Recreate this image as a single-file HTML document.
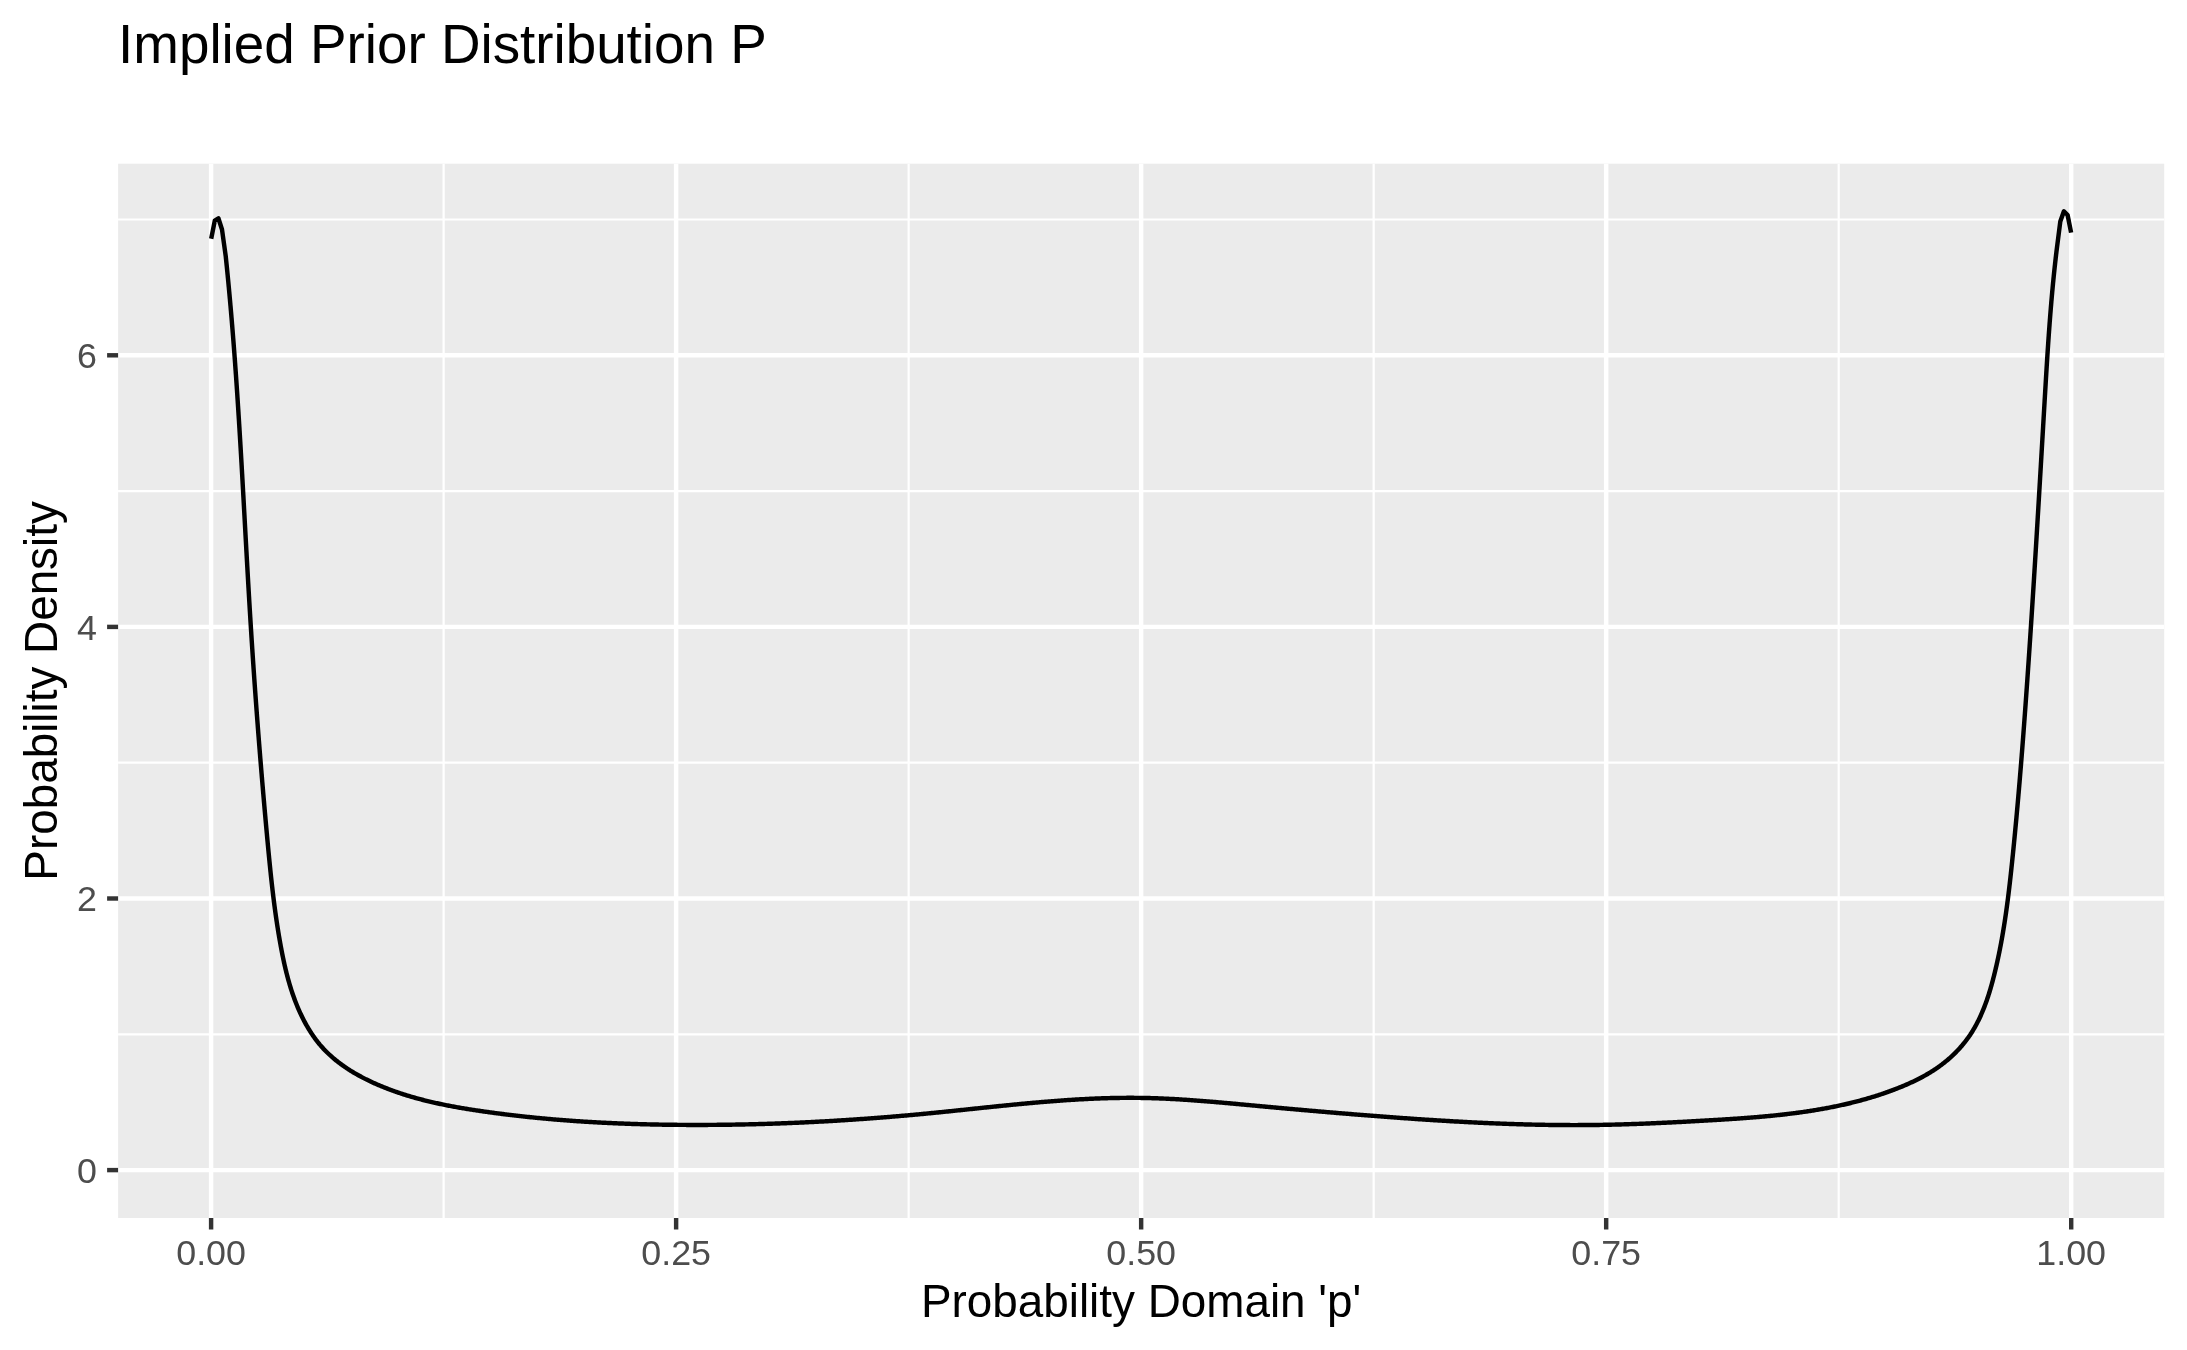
<!DOCTYPE html>
<html><head><meta charset="utf-8"><style>
html,body{margin:0;padding:0;background:#fff;}
body{width:2187px;height:1350px;overflow:hidden;}
svg{display:block;}
text{font-family:"Liberation Sans",sans-serif;}
svg{will-change:transform;}
.ax{font-size:35.8px;fill:#4d4d4d;}
.ti{font-size:45.83px;fill:#000;}
.tt{font-size:54.8px;fill:#000;}
</style></head><body>
<svg width="2187" height="1350" viewBox="0 0 2187 1350">
<rect x="0" y="0" width="2187" height="1350" fill="#fff"/>
<rect x="118.1" y="163.7" width="2046.10" height="1054.30" fill="#ebebeb"/>
<line x1="443.61" y1="163.7" x2="443.61" y2="1218.0" stroke="#fff" stroke-width="2.22"/>
<line x1="908.64" y1="163.7" x2="908.64" y2="1218.0" stroke="#fff" stroke-width="2.22"/>
<line x1="1373.66" y1="163.7" x2="1373.66" y2="1218.0" stroke="#fff" stroke-width="2.22"/>
<line x1="1838.69" y1="163.7" x2="1838.69" y2="1218.0" stroke="#fff" stroke-width="2.22"/>
<line x1="118.1" y1="1034.30" x2="2164.2" y2="1034.30" stroke="#fff" stroke-width="2.22"/>
<line x1="118.1" y1="762.70" x2="2164.2" y2="762.70" stroke="#fff" stroke-width="2.22"/>
<line x1="118.1" y1="491.10" x2="2164.2" y2="491.10" stroke="#fff" stroke-width="2.22"/>
<line x1="118.1" y1="219.50" x2="2164.2" y2="219.50" stroke="#fff" stroke-width="2.22"/>
<line x1="211.10" y1="163.7" x2="211.10" y2="1218.0" stroke="#fff" stroke-width="4.44"/>
<line x1="676.12" y1="163.7" x2="676.12" y2="1218.0" stroke="#fff" stroke-width="4.44"/>
<line x1="1141.15" y1="163.7" x2="1141.15" y2="1218.0" stroke="#fff" stroke-width="4.44"/>
<line x1="1606.17" y1="163.7" x2="1606.17" y2="1218.0" stroke="#fff" stroke-width="4.44"/>
<line x1="2071.20" y1="163.7" x2="2071.20" y2="1218.0" stroke="#fff" stroke-width="4.44"/>
<line x1="118.1" y1="1170.10" x2="2164.2" y2="1170.10" stroke="#fff" stroke-width="4.44"/>
<line x1="118.1" y1="898.50" x2="2164.2" y2="898.50" stroke="#fff" stroke-width="4.44"/>
<line x1="118.1" y1="626.90" x2="2164.2" y2="626.90" stroke="#fff" stroke-width="4.44"/>
<line x1="118.1" y1="355.30" x2="2164.2" y2="355.30" stroke="#fff" stroke-width="4.44"/>
<polyline points="211.20,238.70 214.80,220.60 218.40,218.30 222.00,229.50 225.70,256.00 225.82,257.09 225.93,258.18 226.04,259.27 226.15,260.36 226.27,261.45 226.38,262.54 226.49,263.63 226.60,264.72 226.71,265.81 226.82,266.90 226.93,267.99 227.04,269.08 227.15,270.17 227.26,271.26 227.37,272.35 227.47,273.44 227.58,274.53 227.69,275.62 227.79,276.71 227.90,277.80 228.01,278.89 228.11,279.98 228.22,281.07 228.32,282.16 228.43,283.25 228.53,284.34 228.63,285.43 228.73,286.52 228.84,287.61 228.94,288.71 229.04,289.80 229.14,290.89 229.24,291.98 229.34,293.07 229.44,294.16 229.54,295.25 229.64,296.34 229.74,297.43 229.84,298.52 229.94,299.61 230.04,300.70 230.13,301.79 230.23,302.89 230.33,303.98 230.42,305.07 230.52,306.16 230.62,307.25 230.71,308.34 230.81,309.43 230.90,310.52 231.00,311.61 231.09,312.70 231.18,313.80 231.28,314.89 231.37,315.98 231.46,317.07 231.55,318.16 231.65,319.25 231.74,320.34 231.83,321.43 231.92,322.53 232.01,323.62 232.10,324.71 232.19,325.80 232.28,326.89 232.37,327.98 232.46,329.07 232.55,330.17 232.64,331.26 232.72,332.35 232.81,333.44 232.90,334.53 232.99,335.62 233.07,336.71 233.16,337.81 233.25,338.90 233.33,339.99 233.42,341.08 233.50,342.17 233.59,343.26 233.67,344.36 233.76,345.45 233.84,346.54 233.92,347.63 234.01,348.72 234.09,349.82 234.17,350.91 234.26,352.00 234.34,353.09 234.42,354.18 234.50,355.28 234.58,356.37 234.66,357.46 234.75,358.55 234.83,359.64 234.91,360.74 234.99,361.83 235.07,362.92 235.15,364.01 235.23,365.10 235.30,366.20 235.38,367.29 235.46,368.38 235.54,369.47 235.62,370.56 235.70,371.66 235.77,372.75 235.85,373.84 235.93,374.93 236.01,376.03 236.08,377.12 236.16,378.21 236.23,379.30 236.31,380.40 236.39,381.49 236.46,382.58 236.54,383.67 236.61,384.77 236.69,385.86 236.76,386.95 236.83,388.04 236.91,389.14 236.98,390.23 237.06,391.32 237.13,392.41 237.20,393.51 237.28,394.60 237.35,395.69 237.42,396.78 237.49,397.88 237.57,398.97 237.64,400.06 237.71,401.15 237.78,402.25 237.85,403.34 237.92,404.43 237.99,405.53 238.06,406.62 238.13,407.71 238.21,408.80 238.28,409.90 238.35,410.99 238.42,412.08 238.48,413.17 238.55,414.27 238.62,415.36 238.69,416.45 238.76,417.55 238.83,418.64 238.90,419.73 238.97,420.83 239.04,421.92 239.10,423.01 239.17,424.10 239.24,425.20 239.31,426.29 239.37,427.38 239.44,428.48 239.51,429.57 239.57,430.66 239.64,431.76 239.71,432.85 239.77,433.94 239.84,435.03 239.91,436.13 239.97,437.22 240.04,438.31 240.10,439.41 240.17,440.50 240.24,441.59 240.30,442.69 240.37,443.78 240.43,444.87 240.50,445.97 240.56,447.06 240.63,448.15 240.69,449.25 240.75,450.34 240.82,451.43 240.88,452.53 240.95,453.62 241.01,454.71 241.08,455.81 241.14,456.90 241.20,457.99 241.27,459.09 241.33,460.18 241.39,461.27 241.46,462.37 241.52,463.46 241.58,464.55 241.65,465.65 241.71,466.74 241.77,467.83 241.83,468.93 241.90,470.02 241.96,471.11 242.02,472.21 242.08,473.30 242.15,474.39 242.21,475.49 242.27,476.58 242.33,477.67 242.39,478.77 242.46,479.86 242.52,480.95 242.58,482.05 242.64,483.14 242.70,484.24 242.76,485.33 242.82,486.42 242.89,487.52 242.95,488.61 243.01,489.70 243.07,490.80 243.13,491.89 243.19,492.98 243.25,494.08 243.31,495.17 243.38,496.26 243.44,497.36 243.50,498.45 243.56,499.55 243.62,500.64 243.68,501.73 243.74,502.83 243.80,503.92 243.86,505.01 243.92,506.11 243.98,507.20 244.04,508.30 244.10,509.39 244.16,510.48 244.22,511.58 244.29,512.67 244.35,513.76 244.41,514.86 244.47,515.95 244.53,517.04 244.59,518.14 244.65,519.23 244.71,520.33 244.77,521.42 244.83,522.51 244.89,523.61 244.95,524.70 245.01,525.79 245.07,526.89 245.13,527.98 245.19,529.08 245.25,530.17 245.31,531.26 245.37,532.36 245.43,533.45 245.49,534.54 245.55,535.64 245.61,536.73 245.68,537.83 245.74,538.92 245.80,540.01 245.86,541.11 245.92,542.20 245.98,543.29 246.04,544.39 246.10,545.48 246.16,546.58 246.22,547.67 246.28,548.76 246.34,549.86 246.40,550.95 246.47,552.05 246.53,553.14 246.59,554.23 246.65,555.33 246.71,556.42 246.77,557.51 246.83,558.61 246.89,559.70 246.96,560.80 247.02,561.89 247.08,562.98 247.14,564.08 247.20,565.17 247.26,566.26 247.33,567.36 247.39,568.45 247.45,569.55 247.51,570.64 247.57,571.73 247.64,572.83 247.70,573.92 247.76,575.01 247.82,576.11 247.89,577.20 247.95,578.30 248.01,579.39 248.07,580.48 248.14,581.58 248.20,582.67 248.26,583.77 248.33,584.86 248.39,585.95 248.45,587.05 248.52,588.14 248.58,589.23 248.64,590.33 248.71,591.42 248.77,592.52 248.84,593.61 248.90,594.70 248.96,595.80 249.03,596.89 249.09,597.98 249.16,599.08 249.22,600.17 249.29,601.27 249.35,602.36 249.42,603.45 249.48,604.55 249.55,605.64 249.61,606.73 249.68,607.83 249.75,608.92 249.81,610.01 249.88,611.11 249.94,612.20 250.01,613.30 250.08,614.39 250.14,615.48 250.21,616.58 250.28,617.67 250.35,618.76 250.41,619.86 250.48,620.95 250.55,622.04 250.62,623.14 250.68,624.23 250.75,625.33 250.82,626.42 250.89,627.51 250.96,628.61 251.03,629.70 251.10,630.79 251.17,631.89 251.23,632.98 251.30,634.07 251.37,635.17 251.44,636.26 251.51,637.35 251.58,638.45 251.65,639.54 251.72,640.64 251.80,641.73 251.87,642.82 251.94,643.92 252.01,645.01 252.08,646.10 252.15,647.20 252.22,648.29 252.30,649.38 252.37,650.48 252.44,651.57 252.51,652.66 252.59,653.76 252.66,654.85 252.73,655.94 252.80,657.04 252.88,658.13 252.95,659.22 253.02,660.32 253.10,661.41 253.17,662.50 253.25,663.60 253.32,664.69 253.40,665.78 253.47,666.88 253.54,667.97 253.62,669.06 253.69,670.16 253.77,671.25 253.85,672.34 253.92,673.44 254.00,674.53 254.07,675.62 254.15,676.72 254.23,677.81 254.30,678.90 254.38,680.00 254.46,681.09 254.53,682.18 254.61,683.27 254.69,684.37 254.76,685.46 254.84,686.55 254.92,687.65 255.00,688.74 255.08,689.83 255.15,690.93 255.23,692.02 255.31,693.11 255.39,694.20 255.47,695.30 255.55,696.39 255.63,697.48 255.71,698.58 255.79,699.67 255.87,700.76 255.95,701.85 256.03,702.95 256.11,704.04 256.19,705.13 256.27,706.23 256.35,707.32 256.43,708.41 256.51,709.50 256.59,710.60 256.68,711.69 256.76,712.78 256.84,713.87 256.92,714.97 257.00,716.06 257.09,717.15 257.17,718.24 257.25,719.34 257.33,720.43 257.42,721.52 257.50,722.61 257.58,723.71 257.67,724.80 257.75,725.89 257.84,726.98 257.92,728.08 258.00,729.17 258.09,730.26 258.17,731.35 258.26,732.45 258.34,733.54 258.43,734.63 258.51,735.72 258.60,736.82 258.68,737.91 258.77,739.00 258.85,740.09 258.94,741.18 259.03,742.28 259.11,743.37 259.20,744.46 259.29,745.55 259.37,746.64 259.46,747.74 259.55,748.83 259.64,749.92 259.72,751.01 259.81,752.10 259.90,753.20 259.99,754.29 260.07,755.38 260.16,756.47 260.25,757.56 260.34,758.65 260.43,759.75 260.52,760.84 260.61,761.93 260.70,763.02 260.79,764.11 260.88,765.20 260.97,766.30 261.06,767.39 261.15,768.48 261.24,769.57 261.33,770.66 261.42,771.75 261.51,772.85 261.60,773.94 261.69,775.03 261.78,776.12 261.87,777.21 261.97,778.30 262.06,779.39 262.15,780.48 262.24,781.58 262.33,782.67 262.43,783.76 262.52,784.85 262.61,785.94 262.71,787.03 262.80,788.12 262.89,789.21 262.99,790.30 263.08,791.40 263.17,792.49 263.27,793.58 263.36,794.67 263.46,795.76 263.55,796.85 263.64,797.94 263.74,799.03 263.83,800.12 263.93,801.21 264.03,802.30 264.12,803.39 264.22,804.49 264.31,805.58 264.41,806.67 264.50,807.76 264.60,808.85 264.70,809.94 264.79,811.03 264.89,812.12 264.99,813.21 265.08,814.30 265.18,815.39 265.28,816.48 265.38,817.57 265.47,818.66 265.57,819.75 265.67,820.84 265.77,821.93 265.87,823.02 265.97,824.11 266.06,825.20 266.16,826.29 266.26,827.38 266.36,828.47 266.46,829.56 266.56,830.65 266.66,831.74 266.76,832.83 266.86,833.92 266.96,835.01 267.06,836.10 267.16,837.19 267.26,838.28 267.36,839.37 267.46,840.46 267.57,841.55 267.67,842.64 267.77,843.73 267.87,844.82 267.97,845.91 268.08,846.99 268.18,848.08 268.28,849.17 268.38,850.26 268.49,851.35 268.59,852.44 268.70,853.53 268.80,854.62 268.91,855.71 269.01,856.80 269.12,857.89 269.23,858.97 269.33,860.06 269.44,861.15 269.55,862.24 269.66,863.33 269.77,864.42 269.88,865.51 269.99,866.59 270.10,867.68 270.21,868.77 270.32,869.86 270.43,870.95 270.55,872.03 270.66,873.12 270.77,874.21 270.89,875.30 271.01,876.39 271.12,877.47 271.24,878.56 271.36,879.65 271.48,880.74 271.60,881.82 271.72,882.91 271.84,884.00 271.96,885.09 272.09,886.17 272.21,887.26 272.34,888.35 272.46,889.43 272.59,890.52 272.72,891.61 272.85,892.69 272.98,893.78 273.11,894.87 273.24,895.95 273.37,897.04 273.51,898.12 273.64,899.21 273.78,900.30 273.91,901.38 274.05,902.47 274.19,903.55 274.33,904.64 274.47,905.72 274.62,906.81 274.76,907.89 274.91,908.98 275.05,910.06 275.20,911.15 275.35,912.23 275.50,913.32 275.65,914.40 275.81,915.49 275.96,916.57 276.12,917.66 276.28,918.74 276.43,919.82 276.59,920.91 276.76,921.99 276.92,923.08 277.08,924.16 277.25,925.24 277.42,926.33 277.59,927.41 277.76,928.49 277.93,929.57 278.10,930.66 278.28,931.74 278.45,932.82 278.63,933.91 278.81,934.99 278.99,936.07 279.18,937.15 279.36,938.23 279.55,939.31 279.74,940.40 279.93,941.48 280.12,942.56 280.31,943.64 280.51,944.72 280.70,945.80 280.90,946.88 281.10,947.96 281.31,949.04 281.51,950.12 281.72,951.20 281.93,952.28 282.14,953.36 282.36,954.44 282.57,955.52 282.79,956.59 283.01,957.67 283.24,958.75 283.47,959.82 283.70,960.90 283.93,961.97 284.16,963.04 284.40,964.12 284.64,965.19 284.89,966.26 285.14,967.33 285.39,968.40 285.64,969.47 285.90,970.53 286.17,971.60 286.43,972.67 286.70,973.73 286.97,974.79 287.25,975.86 287.53,976.92 287.81,977.98 288.10,979.04 288.39,980.09 288.69,981.15 288.99,982.20 289.29,983.26 289.60,984.31 289.92,985.36 290.23,986.41 290.56,987.46 290.88,988.50 291.21,989.55 291.55,990.59 291.89,991.63 292.24,992.67 292.59,993.71 292.94,994.74 293.30,995.78 293.67,996.81 294.04,997.84 294.42,998.87 294.80,999.90 295.19,1000.92 295.58,1001.95 295.98,1002.97 296.38,1003.99 296.79,1005.00 297.20,1006.02 297.62,1007.03 298.05,1008.04 298.48,1009.05 298.92,1010.06 299.37,1011.06 299.82,1012.06 300.27,1013.06 300.74,1014.06 301.20,1015.05 301.68,1016.04 302.16,1017.03 302.65,1018.02 303.15,1019.00 303.65,1019.97 304.15,1020.95 304.67,1021.92 305.19,1022.89 305.72,1023.85 306.25,1024.81 306.79,1025.76 307.34,1026.71 307.90,1027.65 308.46,1028.60 309.03,1029.53 309.60,1030.46 310.18,1031.39 310.77,1032.31 311.37,1033.22 311.98,1034.13 312.59,1035.04 313.21,1035.94 313.83,1036.83 314.47,1037.72 315.11,1038.60 315.75,1039.47 316.41,1040.34 317.07,1041.20 317.75,1042.05 318.42,1042.90 319.11,1043.74 319.80,1044.58 320.51,1045.40 321.22,1046.22 321.93,1047.03 322.66,1047.84 323.39,1048.64 324.13,1049.42 324.88,1050.21 325.64,1050.98 326.40,1051.75 327.17,1052.51 327.95,1053.26 328.73,1054.01 329.52,1054.75 330.32,1055.48 331.13,1056.21 331.94,1056.93 332.76,1057.64 333.58,1058.34 334.41,1059.04 335.25,1059.73 336.09,1060.42 336.94,1061.10 337.79,1061.77 338.65,1062.43 339.52,1063.09 340.39,1063.75 341.27,1064.39 342.15,1065.03 343.04,1065.67 343.93,1066.29 344.83,1066.91 345.73,1067.53 346.64,1068.14 347.55,1068.74 348.47,1069.34 349.39,1069.93 350.32,1070.51 351.25,1071.09 352.19,1071.67 353.12,1072.23 354.07,1072.80 355.02,1073.35 355.97,1073.90 356.92,1074.45 357.88,1074.99 358.84,1075.52 359.81,1076.05 360.78,1076.57 361.75,1077.09 362.72,1077.60 363.70,1078.11 364.68,1078.61 365.67,1079.11 366.65,1079.60 367.64,1080.09 368.64,1080.57 369.63,1081.05 370.63,1081.52 371.63,1081.99 372.63,1082.45 373.63,1082.91 374.64,1083.36 375.64,1083.81 376.65,1084.25 377.66,1084.69 378.67,1085.12 379.69,1085.55 380.70,1085.98 381.72,1086.40 382.74,1086.82 383.76,1087.23 384.78,1087.64 385.80,1088.04 386.82,1088.44 387.84,1088.84 388.87,1089.23 389.89,1089.61 390.92,1090.00 391.95,1090.37 392.98,1090.75 394.01,1091.12 395.04,1091.49 396.08,1091.85 397.11,1092.21 398.15,1092.56 399.18,1092.91 400.22,1093.26 401.26,1093.60 402.30,1093.94 403.34,1094.28 404.38,1094.61 405.43,1094.94 406.47,1095.27 407.51,1095.59 408.56,1095.91 409.61,1096.22 410.66,1096.53 411.70,1096.84 412.75,1097.14 413.81,1097.45 414.86,1097.74 415.91,1098.04 416.96,1098.33 418.02,1098.62 419.07,1098.90 420.13,1099.18 421.19,1099.46 422.24,1099.74 423.30,1100.01 424.36,1100.28 425.42,1100.54 426.48,1100.81 427.55,1101.07 428.61,1101.33 429.67,1101.58 430.74,1101.83 431.80,1102.08 432.87,1102.33 433.93,1102.57 435.00,1102.81 436.07,1103.05 437.14,1103.29 438.21,1103.52 439.27,1103.75 440.35,1103.98 441.42,1104.20 442.49,1104.43 443.56,1104.65 444.63,1104.87 445.71,1105.08 446.78,1105.30 447.85,1105.51 448.93,1105.72 450.00,1105.93 451.08,1106.13 452.16,1106.33 453.23,1106.53 454.31,1106.73 455.39,1106.93 456.47,1107.12 457.55,1107.32 458.62,1107.51 459.70,1107.70 460.78,1107.88 461.86,1108.07 462.94,1108.25 464.03,1108.43 465.11,1108.61 466.19,1108.79 467.27,1108.97 468.35,1109.14 469.44,1109.32 470.52,1109.49 471.60,1109.66 472.69,1109.83 473.77,1110.00 474.85,1110.16 475.94,1110.33 477.02,1110.49 478.11,1110.65 479.19,1110.81 480.28,1110.97 481.36,1111.13 482.45,1111.29 483.53,1111.44 484.62,1111.60 485.70,1111.75 486.79,1111.91 487.87,1112.06 488.96,1112.21 490.05,1112.36 491.13,1112.51 492.22,1112.65 493.31,1112.80 494.39,1112.95 495.48,1113.09 496.57,1113.23 497.65,1113.38 498.74,1113.52 499.83,1113.66 500.91,1113.80 502.00,1113.94 503.09,1114.07 504.18,1114.21 505.26,1114.34 506.35,1114.48 507.44,1114.61 508.53,1114.74 509.61,1114.88 510.70,1115.01 511.79,1115.14 512.88,1115.26 513.97,1115.39 515.06,1115.52 516.14,1115.64 517.23,1115.77 518.32,1115.89 519.41,1116.01 520.50,1116.13 521.59,1116.25 522.68,1116.37 523.77,1116.49 524.85,1116.61 525.94,1116.73 527.03,1116.84 528.12,1116.96 529.21,1117.07 530.30,1117.18 531.39,1117.30 532.48,1117.41 533.57,1117.52 534.66,1117.62 535.75,1117.73 536.84,1117.84 537.93,1117.95 539.02,1118.05 540.11,1118.16 541.20,1118.26 542.29,1118.36 543.38,1118.46 544.47,1118.56 545.57,1118.66 546.66,1118.76 547.75,1118.86 548.84,1118.96 549.93,1119.05 551.02,1119.15 552.11,1119.24 553.20,1119.34 554.29,1119.43 555.39,1119.52 556.48,1119.61 557.57,1119.70 558.66,1119.79 559.75,1119.88 560.84,1119.97 561.94,1120.05 563.03,1120.14 564.12,1120.22 565.21,1120.31 566.30,1120.39 567.40,1120.47 568.49,1120.55 569.58,1120.64 570.67,1120.71 571.76,1120.79 572.86,1120.87 573.95,1120.95 575.04,1121.02 576.13,1121.10 577.23,1121.17 578.32,1121.25 579.41,1121.32 580.51,1121.39 581.60,1121.47 582.69,1121.54 583.78,1121.61 584.88,1121.67 585.97,1121.74 587.06,1121.81 588.16,1121.88 589.25,1121.94 590.34,1122.01 591.44,1122.07 592.53,1122.13 593.62,1122.20 594.72,1122.26 595.81,1122.32 596.90,1122.38 598.00,1122.44 599.09,1122.50 600.19,1122.55 601.28,1122.61 602.37,1122.67 603.47,1122.72 604.56,1122.78 605.65,1122.83 606.75,1122.89 607.84,1122.94 608.94,1122.99 610.03,1123.04 611.12,1123.09 612.22,1123.14 613.31,1123.19 614.41,1123.24 615.50,1123.28 616.60,1123.33 617.69,1123.38 618.78,1123.42 619.88,1123.47 620.97,1123.51 622.07,1123.55 623.16,1123.59 624.26,1123.64 625.35,1123.68 626.45,1123.72 627.54,1123.76 628.64,1123.79 629.73,1123.83 630.82,1123.87 631.92,1123.91 633.01,1123.94 634.11,1123.98 635.20,1124.01 636.30,1124.05 637.39,1124.08 638.49,1124.11 639.58,1124.14 640.68,1124.17 641.77,1124.21 642.87,1124.23 643.96,1124.26 645.06,1124.29 646.15,1124.32 647.25,1124.35 648.34,1124.37 649.44,1124.40 650.53,1124.42 651.63,1124.45 652.72,1124.47 653.82,1124.50 654.91,1124.52 656.01,1124.54 657.10,1124.56 658.20,1124.58 659.29,1124.60 660.39,1124.62 661.48,1124.64 662.58,1124.66 663.67,1124.68 664.77,1124.69 665.86,1124.71 666.96,1124.73 668.05,1124.74 669.15,1124.76 670.24,1124.77 671.34,1124.78 672.43,1124.80 673.53,1124.81 674.62,1124.82 675.72,1124.83 676.82,1124.84 677.91,1124.85 679.01,1124.86 680.10,1124.87 681.20,1124.88 682.29,1124.89 683.39,1124.89 684.48,1124.90 685.58,1124.90 686.67,1124.91 687.77,1124.91 688.86,1124.92 689.96,1124.92 691.05,1124.93 692.15,1124.93 693.24,1124.93 694.34,1124.93 695.43,1124.93 696.53,1124.93 697.62,1124.93 698.72,1124.93 699.81,1124.93 700.91,1124.93 702.00,1124.93 703.10,1124.92 704.19,1124.92 705.29,1124.92 706.38,1124.91 707.48,1124.91 708.57,1124.90 709.67,1124.90 710.76,1124.89 711.86,1124.88 712.95,1124.87 714.05,1124.87 715.14,1124.86 716.24,1124.85 717.33,1124.84 718.43,1124.83 719.52,1124.82 720.62,1124.81 721.71,1124.79 722.80,1124.78 723.90,1124.77 724.99,1124.76 726.09,1124.74 727.18,1124.73 728.28,1124.71 729.37,1124.70 730.47,1124.68 731.56,1124.66 732.66,1124.65 733.75,1124.63 734.85,1124.61 735.94,1124.59 737.04,1124.57 738.13,1124.55 739.22,1124.53 740.32,1124.51 741.41,1124.49 742.51,1124.47 743.60,1124.45 744.70,1124.42 745.79,1124.40 746.89,1124.37 747.98,1124.35 749.07,1124.33 750.17,1124.30 751.26,1124.27 752.36,1124.25 753.45,1124.22 754.55,1124.19 755.64,1124.16 756.74,1124.14 757.83,1124.11 758.92,1124.08 760.02,1124.05 761.11,1124.02 762.21,1123.98 763.30,1123.95 764.40,1123.92 765.49,1123.89 766.58,1123.85 767.68,1123.82 768.77,1123.79 769.87,1123.75 770.96,1123.71 772.05,1123.68 773.15,1123.64 774.24,1123.61 775.34,1123.57 776.43,1123.53 777.52,1123.49 778.62,1123.45 779.71,1123.41 780.81,1123.37 781.90,1123.33 782.99,1123.29 784.09,1123.25 785.18,1123.21 786.28,1123.16 787.37,1123.12 788.46,1123.08 789.56,1123.03 790.65,1122.99 791.75,1122.94 792.84,1122.90 793.93,1122.85 795.03,1122.81 796.12,1122.76 797.22,1122.71 798.31,1122.66 799.40,1122.61 800.50,1122.56 801.59,1122.51 802.68,1122.46 803.78,1122.41 804.87,1122.36 805.96,1122.31 807.06,1122.26 808.15,1122.21 809.25,1122.15 810.34,1122.10 811.43,1122.04 812.53,1121.99 813.62,1121.93 814.71,1121.88 815.81,1121.82 816.90,1121.76 817.99,1121.71 819.09,1121.65 820.18,1121.59 821.27,1121.53 822.37,1121.47 823.46,1121.41 824.55,1121.35 825.65,1121.29 826.74,1121.23 827.83,1121.17 828.93,1121.11 830.02,1121.04 831.11,1120.98 832.21,1120.92 833.30,1120.85 834.39,1120.79 835.49,1120.72 836.58,1120.66 837.67,1120.59 838.77,1120.52 839.86,1120.46 840.95,1120.39 842.05,1120.32 843.14,1120.25 844.23,1120.18 845.33,1120.11 846.42,1120.04 847.51,1119.97 848.60,1119.90 849.70,1119.83 850.79,1119.76 851.88,1119.68 852.98,1119.61 854.07,1119.54 855.16,1119.46 856.25,1119.39 857.35,1119.31 858.44,1119.24 859.53,1119.16 860.63,1119.09 861.72,1119.01 862.81,1118.93 863.90,1118.85 865.00,1118.77 866.09,1118.70 867.18,1118.62 868.27,1118.54 869.37,1118.46 870.46,1118.37 871.55,1118.29 872.65,1118.21 873.74,1118.13 874.83,1118.05 875.92,1117.96 877.02,1117.88 878.11,1117.79 879.20,1117.71 880.29,1117.62 881.38,1117.54 882.48,1117.45 883.57,1117.37 884.66,1117.28 885.75,1117.19 886.85,1117.10 887.94,1117.01 889.03,1116.92 890.12,1116.84 891.22,1116.74 892.31,1116.65 893.40,1116.56 894.49,1116.47 895.58,1116.38 896.68,1116.29 897.77,1116.19 898.86,1116.10 899.95,1116.01 901.05,1115.91 902.14,1115.82 903.23,1115.72 904.32,1115.63 905.41,1115.53 906.51,1115.43 907.60,1115.34 908.69,1115.24 909.78,1115.14 910.87,1115.04 911.96,1114.94 913.06,1114.84 914.15,1114.74 915.24,1114.64 916.33,1114.54 917.42,1114.44 918.52,1114.34 919.61,1114.24 920.70,1114.13 921.79,1114.03 922.88,1113.93 923.97,1113.82 925.07,1113.72 926.16,1113.61 927.25,1113.51 928.34,1113.40 929.43,1113.29 930.52,1113.19 931.61,1113.08 932.71,1112.97 933.80,1112.86 934.89,1112.75 935.98,1112.65 937.07,1112.54 938.16,1112.43 939.25,1112.32 940.35,1112.21 941.44,1112.10 942.53,1111.99 943.62,1111.87 944.71,1111.76 945.80,1111.65 946.89,1111.54 947.98,1111.43 949.08,1111.32 950.17,1111.20 951.26,1111.09 952.35,1110.98 953.44,1110.86 954.53,1110.75 955.62,1110.64 956.71,1110.52 957.80,1110.41 958.90,1110.30 959.99,1110.18 961.08,1110.07 962.17,1109.95 963.26,1109.84 964.35,1109.72 965.44,1109.61 966.53,1109.49 967.62,1109.38 968.71,1109.27 969.81,1109.15 970.90,1109.04 971.99,1108.92 973.08,1108.81 974.17,1108.69 975.26,1108.58 976.35,1108.46 977.44,1108.35 978.53,1108.23 979.62,1108.12 980.71,1108.00 981.81,1107.89 982.90,1107.78 983.99,1107.66 985.08,1107.55 986.17,1107.43 987.26,1107.32 988.35,1107.21 989.44,1107.09 990.53,1106.98 991.62,1106.87 992.71,1106.75 993.81,1106.64 994.90,1106.53 995.99,1106.42 997.08,1106.31 998.17,1106.19 999.26,1106.08 1000.35,1105.97 1001.44,1105.86 1002.53,1105.75 1003.62,1105.64 1004.71,1105.53 1005.80,1105.42 1006.89,1105.31 1007.99,1105.20 1009.08,1105.09 1010.17,1104.99 1011.26,1104.88 1012.35,1104.77 1013.44,1104.66 1014.53,1104.56 1015.62,1104.45 1016.71,1104.35 1017.80,1104.24 1018.89,1104.14 1019.98,1104.03 1021.08,1103.93 1022.17,1103.82 1023.26,1103.72 1024.35,1103.62 1025.44,1103.52 1026.53,1103.42 1027.62,1103.32 1028.71,1103.22 1029.80,1103.12 1030.89,1103.02 1031.98,1102.92 1033.08,1102.82 1034.17,1102.72 1035.26,1102.63 1036.35,1102.53 1037.44,1102.44 1038.53,1102.34 1039.62,1102.25 1040.71,1102.15 1041.80,1102.06 1042.89,1101.97 1043.99,1101.88 1045.08,1101.79 1046.17,1101.70 1047.26,1101.61 1048.35,1101.52 1049.44,1101.43 1050.53,1101.35 1051.62,1101.26 1052.71,1101.18 1053.80,1101.09 1054.90,1101.01 1055.99,1100.93 1057.08,1100.84 1058.17,1100.76 1059.26,1100.68 1060.35,1100.60 1061.44,1100.53 1062.53,1100.45 1063.63,1100.37 1064.72,1100.30 1065.81,1100.22 1066.90,1100.15 1067.99,1100.07 1069.08,1100.00 1070.17,1099.93 1071.26,1099.86 1072.36,1099.79 1073.45,1099.72 1074.54,1099.66 1075.63,1099.59 1076.72,1099.53 1077.81,1099.46 1078.90,1099.40 1080.00,1099.34 1081.09,1099.28 1082.18,1099.22 1083.27,1099.16 1084.36,1099.10 1085.45,1099.05 1086.55,1098.99 1087.64,1098.94 1088.73,1098.88 1089.82,1098.83 1090.91,1098.78 1092.00,1098.73 1093.10,1098.68 1094.19,1098.64 1095.28,1098.59 1096.37,1098.55 1097.46,1098.50 1098.56,1098.46 1099.65,1098.42 1100.74,1098.38 1101.83,1098.34 1102.92,1098.31 1104.02,1098.27 1105.11,1098.24 1106.20,1098.20 1107.29,1098.17 1108.38,1098.14 1109.48,1098.11 1110.57,1098.09 1111.66,1098.06 1112.75,1098.03 1113.85,1098.01 1114.94,1097.99 1116.03,1097.97 1117.12,1097.95 1118.21,1097.93 1119.31,1097.92 1120.40,1097.90 1121.49,1097.89 1122.58,1097.88 1123.68,1097.87 1124.77,1097.86 1125.86,1097.85 1126.96,1097.84 1128.05,1097.84 1129.14,1097.84 1130.23,1097.84 1131.33,1097.84 1132.42,1097.84 1133.51,1097.84 1134.60,1097.85 1135.70,1097.85 1136.79,1097.86 1137.88,1097.87 1138.98,1097.88 1140.07,1097.90 1141.16,1097.91 1142.26,1097.93 1143.35,1097.95 1144.44,1097.97 1145.54,1097.99 1146.63,1098.01 1147.72,1098.04 1148.82,1098.07 1149.91,1098.09 1151.00,1098.12 1152.10,1098.16 1153.19,1098.19 1154.28,1098.22 1155.38,1098.26 1156.47,1098.30 1157.56,1098.34 1158.66,1098.38 1159.75,1098.42 1160.84,1098.46 1161.94,1098.51 1163.03,1098.55 1164.13,1098.60 1165.22,1098.65 1166.31,1098.70 1167.41,1098.75 1168.50,1098.81 1169.59,1098.86 1170.69,1098.92 1171.78,1098.97 1172.88,1099.03 1173.97,1099.09 1175.06,1099.15 1176.16,1099.21 1177.25,1099.28 1178.35,1099.34 1179.44,1099.40 1180.53,1099.47 1181.63,1099.54 1182.72,1099.61 1183.82,1099.68 1184.91,1099.75 1186.00,1099.82 1187.10,1099.89 1188.19,1099.96 1189.29,1100.04 1190.38,1100.11 1191.47,1100.19 1192.57,1100.27 1193.66,1100.35 1194.75,1100.43 1195.85,1100.51 1196.94,1100.59 1198.04,1100.67 1199.13,1100.75 1200.22,1100.84 1201.32,1100.92 1202.41,1101.00 1203.51,1101.09 1204.60,1101.18 1205.69,1101.26 1206.79,1101.35 1207.88,1101.44 1208.97,1101.53 1210.07,1101.62 1211.16,1101.71 1212.26,1101.80 1213.35,1101.89 1214.44,1101.99 1215.54,1102.08 1216.63,1102.17 1217.72,1102.27 1218.82,1102.36 1219.91,1102.46 1221.00,1102.55 1222.10,1102.65 1223.19,1102.75 1224.28,1102.84 1225.38,1102.94 1226.47,1103.04 1227.56,1103.14 1228.66,1103.23 1229.75,1103.33 1230.84,1103.43 1231.94,1103.53 1233.03,1103.63 1234.12,1103.73 1235.21,1103.83 1236.31,1103.93 1237.40,1104.03 1238.49,1104.13 1239.59,1104.24 1240.68,1104.34 1241.77,1104.44 1242.86,1104.54 1243.96,1104.64 1245.05,1104.74 1246.14,1104.85 1247.23,1104.95 1248.33,1105.05 1249.42,1105.15 1250.51,1105.25 1251.60,1105.36 1252.70,1105.46 1253.79,1105.56 1254.88,1105.66 1255.97,1105.76 1257.06,1105.87 1258.16,1105.97 1259.25,1106.07 1260.34,1106.17 1261.43,1106.27 1262.52,1106.37 1263.61,1106.47 1264.70,1106.58 1265.80,1106.68 1266.89,1106.78 1267.98,1106.88 1269.07,1106.98 1270.16,1107.08 1271.25,1107.18 1272.34,1107.28 1273.43,1107.38 1274.53,1107.48 1275.62,1107.58 1276.71,1107.68 1277.80,1107.78 1278.89,1107.88 1279.98,1107.98 1281.07,1108.07 1282.16,1108.17 1283.25,1108.27 1284.34,1108.37 1285.43,1108.47 1286.52,1108.57 1287.61,1108.67 1288.70,1108.76 1289.79,1108.86 1290.89,1108.96 1291.98,1109.06 1293.07,1109.15 1294.16,1109.25 1295.25,1109.35 1296.34,1109.45 1297.43,1109.54 1298.52,1109.64 1299.61,1109.73 1300.70,1109.83 1301.79,1109.93 1302.88,1110.02 1303.97,1110.12 1305.06,1110.21 1306.15,1110.31 1307.24,1110.41 1308.33,1110.50 1309.42,1110.60 1310.51,1110.69 1311.60,1110.79 1312.69,1110.88 1313.78,1110.97 1314.87,1111.07 1315.96,1111.16 1317.05,1111.26 1318.14,1111.35 1319.23,1111.44 1320.32,1111.54 1321.41,1111.63 1322.50,1111.72 1323.59,1111.82 1324.68,1111.91 1325.77,1112.00 1326.86,1112.09 1327.95,1112.19 1329.04,1112.28 1330.13,1112.37 1331.22,1112.46 1332.31,1112.55 1333.40,1112.65 1334.49,1112.74 1335.58,1112.83 1336.67,1112.92 1337.76,1113.01 1338.85,1113.10 1339.94,1113.19 1341.03,1113.28 1342.12,1113.37 1343.21,1113.46 1344.30,1113.55 1345.39,1113.64 1346.48,1113.73 1347.57,1113.82 1348.66,1113.91 1349.75,1113.99 1350.84,1114.08 1351.93,1114.17 1353.02,1114.26 1354.11,1114.35 1355.20,1114.44 1356.29,1114.52 1357.38,1114.61 1358.47,1114.70 1359.56,1114.78 1360.65,1114.87 1361.75,1114.96 1362.84,1115.04 1363.93,1115.13 1365.02,1115.22 1366.11,1115.30 1367.20,1115.39 1368.29,1115.47 1369.38,1115.56 1370.47,1115.64 1371.56,1115.73 1372.65,1115.81 1373.75,1115.90 1374.84,1115.98 1375.93,1116.07 1377.02,1116.15 1378.11,1116.23 1379.20,1116.32 1380.29,1116.40 1381.39,1116.48 1382.48,1116.57 1383.57,1116.65 1384.66,1116.73 1385.75,1116.81 1386.85,1116.90 1387.94,1116.98 1389.03,1117.06 1390.12,1117.14 1391.21,1117.22 1392.31,1117.30 1393.40,1117.38 1394.49,1117.46 1395.58,1117.54 1396.68,1117.62 1397.77,1117.70 1398.86,1117.78 1399.95,1117.86 1401.04,1117.94 1402.14,1118.02 1403.23,1118.10 1404.32,1118.17 1405.42,1118.25 1406.51,1118.33 1407.60,1118.41 1408.69,1118.48 1409.79,1118.56 1410.88,1118.64 1411.97,1118.71 1413.07,1118.79 1414.16,1118.86 1415.25,1118.94 1416.35,1119.01 1417.44,1119.09 1418.53,1119.16 1419.62,1119.23 1420.72,1119.31 1421.81,1119.38 1422.90,1119.45 1424.00,1119.53 1425.09,1119.60 1426.19,1119.67 1427.28,1119.74 1428.37,1119.81 1429.47,1119.88 1430.56,1119.95 1431.65,1120.02 1432.75,1120.09 1433.84,1120.16 1434.93,1120.23 1436.03,1120.30 1437.12,1120.37 1438.22,1120.44 1439.31,1120.50 1440.40,1120.57 1441.50,1120.64 1442.59,1120.70 1443.69,1120.77 1444.78,1120.84 1445.87,1120.90 1446.97,1120.97 1448.06,1121.03 1449.16,1121.09 1450.25,1121.16 1451.34,1121.22 1452.44,1121.28 1453.53,1121.35 1454.63,1121.41 1455.72,1121.47 1456.82,1121.53 1457.91,1121.59 1459.01,1121.65 1460.10,1121.71 1461.19,1121.77 1462.29,1121.83 1463.38,1121.89 1464.48,1121.95 1465.57,1122.01 1466.67,1122.06 1467.76,1122.12 1468.86,1122.18 1469.95,1122.23 1471.04,1122.29 1472.14,1122.35 1473.23,1122.40 1474.33,1122.45 1475.42,1122.51 1476.52,1122.56 1477.61,1122.61 1478.71,1122.67 1479.80,1122.72 1480.90,1122.77 1481.99,1122.82 1483.09,1122.87 1484.18,1122.92 1485.28,1122.97 1486.37,1123.02 1487.47,1123.07 1488.56,1123.12 1489.66,1123.16 1490.75,1123.21 1491.85,1123.26 1492.94,1123.30 1494.04,1123.35 1495.13,1123.39 1496.23,1123.44 1497.32,1123.48 1498.42,1123.53 1499.51,1123.57 1500.61,1123.61 1501.70,1123.65 1502.80,1123.70 1503.89,1123.74 1504.99,1123.78 1506.08,1123.82 1507.18,1123.86 1508.27,1123.89 1509.37,1123.93 1510.46,1123.97 1511.56,1124.01 1512.65,1124.04 1513.75,1124.08 1514.84,1124.11 1515.94,1124.15 1517.03,1124.18 1518.13,1124.22 1519.22,1124.25 1520.32,1124.28 1521.41,1124.31 1522.51,1124.34 1523.60,1124.38 1524.70,1124.41 1525.79,1124.43 1526.89,1124.46 1527.98,1124.49 1529.08,1124.52 1530.17,1124.55 1531.27,1124.57 1532.36,1124.60 1533.46,1124.62 1534.55,1124.65 1535.65,1124.67 1536.74,1124.70 1537.84,1124.72 1538.93,1124.74 1540.03,1124.76 1541.12,1124.78 1542.22,1124.80 1543.31,1124.82 1544.41,1124.84 1545.50,1124.86 1546.60,1124.88 1547.69,1124.90 1548.79,1124.91 1549.88,1124.93 1550.98,1124.94 1552.07,1124.96 1553.17,1124.97 1554.26,1124.98 1555.36,1125.00 1556.45,1125.01 1557.55,1125.02 1558.64,1125.03 1559.74,1125.04 1560.83,1125.05 1561.93,1125.06 1563.02,1125.06 1564.12,1125.07 1565.21,1125.08 1566.31,1125.08 1567.40,1125.09 1568.50,1125.09 1569.59,1125.09 1570.69,1125.10 1571.78,1125.10 1572.87,1125.10 1573.97,1125.10 1575.06,1125.10 1576.16,1125.10 1577.25,1125.10 1578.35,1125.09 1579.44,1125.09 1580.54,1125.09 1581.63,1125.08 1582.73,1125.08 1583.82,1125.07 1584.91,1125.06 1586.01,1125.06 1587.10,1125.05 1588.20,1125.04 1589.29,1125.03 1590.39,1125.02 1591.48,1125.01 1592.57,1124.99 1593.67,1124.98 1594.76,1124.97 1595.86,1124.95 1596.95,1124.94 1598.05,1124.92 1599.14,1124.91 1600.23,1124.89 1601.33,1124.87 1602.42,1124.85 1603.52,1124.83 1604.61,1124.81 1605.70,1124.79 1606.80,1124.77 1607.89,1124.75 1608.99,1124.72 1610.08,1124.70 1611.17,1124.67 1612.27,1124.65 1613.36,1124.62 1614.45,1124.60 1615.55,1124.57 1616.64,1124.54 1617.74,1124.51 1618.83,1124.48 1619.92,1124.45 1621.02,1124.42 1622.11,1124.39 1623.20,1124.36 1624.30,1124.33 1625.39,1124.29 1626.49,1124.26 1627.58,1124.22 1628.67,1124.19 1629.77,1124.15 1630.86,1124.12 1631.95,1124.08 1633.05,1124.04 1634.14,1124.01 1635.24,1123.97 1636.33,1123.93 1637.42,1123.89 1638.52,1123.85 1639.61,1123.81 1640.70,1123.77 1641.80,1123.73 1642.89,1123.68 1643.99,1123.64 1645.08,1123.60 1646.17,1123.55 1647.27,1123.51 1648.36,1123.47 1649.45,1123.42 1650.55,1123.37 1651.64,1123.33 1652.74,1123.28 1653.83,1123.23 1654.92,1123.19 1656.02,1123.14 1657.11,1123.09 1658.21,1123.04 1659.30,1122.99 1660.39,1122.94 1661.49,1122.89 1662.58,1122.84 1663.68,1122.79 1664.77,1122.74 1665.86,1122.69 1666.96,1122.63 1668.05,1122.58 1669.15,1122.53 1670.24,1122.47 1671.33,1122.42 1672.43,1122.36 1673.52,1122.31 1674.62,1122.25 1675.71,1122.20 1676.81,1122.14 1677.90,1122.09 1678.99,1122.03 1680.09,1121.97 1681.18,1121.92 1682.28,1121.86 1683.37,1121.80 1684.47,1121.74 1685.56,1121.68 1686.66,1121.62 1687.75,1121.57 1688.85,1121.51 1689.94,1121.45 1691.04,1121.39 1692.13,1121.33 1693.22,1121.27 1694.32,1121.20 1695.41,1121.14 1696.51,1121.08 1697.60,1121.02 1698.70,1120.96 1699.80,1120.90 1700.89,1120.83 1701.99,1120.77 1703.08,1120.71 1704.18,1120.64 1705.27,1120.58 1706.37,1120.52 1707.46,1120.45 1708.56,1120.39 1709.65,1120.33 1710.75,1120.26 1711.84,1120.20 1712.94,1120.13 1714.04,1120.07 1715.13,1120.00 1716.23,1119.94 1717.32,1119.87 1718.42,1119.80 1719.52,1119.74 1720.61,1119.67 1721.71,1119.60 1722.80,1119.53 1723.90,1119.46 1724.99,1119.40 1726.09,1119.33 1727.19,1119.26 1728.28,1119.19 1729.38,1119.12 1730.47,1119.04 1731.57,1118.97 1732.66,1118.90 1733.76,1118.83 1734.85,1118.75 1735.95,1118.68 1737.05,1118.60 1738.14,1118.52 1739.24,1118.45 1740.33,1118.37 1741.43,1118.29 1742.52,1118.21 1743.62,1118.13 1744.71,1118.05 1745.80,1117.97 1746.90,1117.89 1747.99,1117.80 1749.09,1117.72 1750.18,1117.64 1751.28,1117.55 1752.37,1117.46 1753.46,1117.37 1754.56,1117.28 1755.65,1117.19 1756.74,1117.10 1757.84,1117.01 1758.93,1116.92 1760.02,1116.82 1761.11,1116.73 1762.21,1116.63 1763.30,1116.53 1764.39,1116.44 1765.48,1116.33 1766.57,1116.23 1767.66,1116.13 1768.76,1116.03 1769.85,1115.92 1770.94,1115.82 1772.03,1115.71 1773.12,1115.60 1774.21,1115.49 1775.30,1115.38 1776.39,1115.26 1777.48,1115.15 1778.56,1115.03 1779.65,1114.92 1780.74,1114.80 1781.83,1114.68 1782.92,1114.55 1784.00,1114.43 1785.09,1114.31 1786.18,1114.18 1787.27,1114.05 1788.35,1113.92 1789.44,1113.79 1790.52,1113.66 1791.61,1113.52 1792.69,1113.39 1793.78,1113.25 1794.86,1113.11 1795.95,1112.97 1797.03,1112.82 1798.11,1112.68 1799.20,1112.53 1800.28,1112.38 1801.36,1112.23 1802.44,1112.08 1803.52,1111.92 1804.61,1111.77 1805.69,1111.61 1806.77,1111.45 1807.85,1111.29 1808.93,1111.12 1810.01,1110.96 1811.08,1110.79 1812.16,1110.62 1813.24,1110.45 1814.32,1110.27 1815.40,1110.10 1816.47,1109.92 1817.55,1109.74 1818.62,1109.56 1819.70,1109.37 1820.77,1109.18 1821.85,1108.99 1822.92,1108.80 1824.00,1108.61 1825.07,1108.41 1826.14,1108.22 1827.21,1108.01 1828.28,1107.81 1829.36,1107.61 1830.43,1107.40 1831.50,1107.19 1832.57,1106.98 1833.64,1106.76 1834.70,1106.54 1835.77,1106.32 1836.84,1106.10 1837.91,1105.88 1838.97,1105.65 1840.04,1105.42 1841.10,1105.19 1842.17,1104.95 1843.23,1104.71 1844.30,1104.47 1845.36,1104.23 1846.42,1103.98 1847.48,1103.73 1848.55,1103.48 1849.61,1103.23 1850.67,1102.97 1851.73,1102.71 1852.79,1102.45 1853.85,1102.19 1854.90,1101.92 1855.96,1101.65 1857.02,1101.37 1858.07,1101.10 1859.13,1100.82 1860.18,1100.53 1861.24,1100.25 1862.29,1099.96 1863.35,1099.67 1864.40,1099.37 1865.45,1099.08 1866.50,1098.77 1867.55,1098.47 1868.60,1098.16 1869.65,1097.85 1870.70,1097.54 1871.75,1097.22 1872.80,1096.90 1873.84,1096.58 1874.89,1096.26 1875.93,1095.93 1876.98,1095.59 1878.02,1095.26 1879.07,1094.92 1880.11,1094.58 1881.15,1094.23 1882.19,1093.88 1883.23,1093.53 1884.27,1093.17 1885.31,1092.81 1886.35,1092.45 1887.39,1092.08 1888.43,1091.71 1889.46,1091.34 1890.50,1090.96 1891.53,1090.58 1892.57,1090.20 1893.60,1089.81 1894.63,1089.42 1895.66,1089.02 1896.70,1088.62 1897.73,1088.22 1898.75,1087.81 1899.78,1087.40 1900.81,1086.98 1901.83,1086.57 1902.85,1086.14 1903.87,1085.71 1904.89,1085.28 1905.91,1084.85 1906.93,1084.40 1907.94,1083.96 1908.95,1083.51 1909.96,1083.05 1910.96,1082.59 1911.97,1082.13 1912.97,1081.66 1913.97,1081.18 1914.96,1080.70 1915.95,1080.22 1916.94,1079.73 1917.93,1079.23 1918.91,1078.73 1919.89,1078.23 1920.87,1077.72 1921.84,1077.20 1922.81,1076.68 1923.78,1076.15 1924.74,1075.61 1925.70,1075.07 1926.65,1074.53 1927.60,1073.98 1928.55,1073.42 1929.49,1072.85 1930.43,1072.28 1931.36,1071.71 1932.29,1071.12 1933.21,1070.54 1934.13,1069.94 1935.04,1069.34 1935.95,1068.73 1936.86,1068.11 1937.76,1067.49 1938.65,1066.86 1939.54,1066.23 1940.42,1065.58 1941.29,1064.93 1942.17,1064.28 1943.03,1063.61 1943.89,1062.94 1944.74,1062.27 1945.59,1061.58 1946.43,1060.89 1947.27,1060.19 1948.10,1059.49 1948.92,1058.78 1949.74,1058.06 1950.55,1057.33 1951.35,1056.60 1952.15,1055.87 1952.94,1055.12 1953.73,1054.37 1954.50,1053.61 1955.28,1052.85 1956.04,1052.08 1956.80,1051.30 1957.55,1050.52 1958.29,1049.73 1959.02,1048.94 1959.75,1048.14 1960.47,1047.33 1961.19,1046.51 1961.89,1045.69 1962.59,1044.87 1963.28,1044.04 1963.97,1043.20 1964.64,1042.35 1965.31,1041.50 1965.97,1040.65 1966.62,1039.78 1967.27,1038.92 1967.91,1038.04 1968.53,1037.16 1969.15,1036.28 1969.76,1035.38 1970.37,1034.49 1970.96,1033.58 1971.55,1032.68 1972.13,1031.76 1972.70,1030.84 1973.26,1029.92 1973.81,1028.99 1974.36,1028.05 1974.89,1027.11 1975.42,1026.17 1975.95,1025.22 1976.46,1024.26 1976.97,1023.30 1977.47,1022.34 1977.96,1021.37 1978.45,1020.40 1978.93,1019.42 1979.40,1018.44 1979.87,1017.45 1980.32,1016.46 1980.78,1015.47 1981.22,1014.47 1981.66,1013.47 1982.09,1012.46 1982.52,1011.45 1982.94,1010.44 1983.36,1009.42 1983.76,1008.41 1984.17,1007.38 1984.56,1006.36 1984.95,1005.33 1985.34,1004.30 1985.72,1003.26 1986.09,1002.23 1986.46,1001.19 1986.83,1000.14 1987.19,999.10 1987.54,998.05 1987.89,997.00 1988.23,995.95 1988.57,994.90 1988.91,993.84 1989.24,992.78 1989.57,991.72 1989.89,990.66 1990.21,989.60 1990.52,988.54 1990.83,987.47 1991.14,986.40 1991.44,985.33 1991.74,984.26 1992.03,983.19 1992.32,982.12 1992.61,981.05 1992.89,979.98 1993.18,978.90 1993.45,977.83 1993.73,976.75 1994.00,975.68 1994.27,974.60 1994.54,973.52 1994.80,972.45 1995.06,971.37 1995.32,970.29 1995.57,969.22 1995.83,968.14 1996.08,967.06 1996.33,965.98 1996.57,964.91 1996.82,963.83 1997.06,962.75 1997.30,961.68 1997.54,960.60 1997.77,959.52 1998.00,958.44 1998.23,957.37 1998.46,956.29 1998.69,955.21 1998.91,954.13 1999.13,953.05 1999.35,951.98 1999.57,950.90 1999.78,949.82 1999.99,948.74 2000.20,947.66 2000.41,946.59 2000.62,945.51 2000.82,944.43 2001.03,943.35 2001.23,942.27 2001.42,941.19 2001.62,940.11 2001.82,939.04 2002.01,937.96 2002.20,936.88 2002.39,935.80 2002.57,934.72 2002.76,933.64 2002.94,932.56 2003.13,931.48 2003.31,930.40 2003.48,929.32 2003.66,928.24 2003.84,927.16 2004.01,926.08 2004.18,925.00 2004.35,923.92 2004.52,922.84 2004.69,921.76 2004.85,920.68 2005.02,919.60 2005.18,918.52 2005.34,917.44 2005.50,916.36 2005.66,915.28 2005.81,914.20 2005.97,913.12 2006.12,912.04 2006.27,910.96 2006.42,909.87 2006.57,908.79 2006.72,907.71 2006.87,906.63 2007.02,905.55 2007.16,904.47 2007.30,903.39 2007.45,902.30 2007.59,901.22 2007.73,900.14 2007.87,899.06 2008.00,897.98 2008.14,896.89 2008.28,895.81 2008.41,894.73 2008.54,893.65 2008.68,892.56 2008.81,891.48 2008.94,890.40 2009.07,889.31 2009.20,888.23 2009.32,887.15 2009.45,886.06 2009.58,884.98 2009.70,883.90 2009.83,882.81 2009.95,881.73 2010.07,880.65 2010.20,879.56 2010.32,878.48 2010.44,877.39 2010.56,876.31 2010.68,875.23 2010.80,874.14 2010.91,873.06 2011.03,871.97 2011.15,870.89 2011.27,869.80 2011.38,868.72 2011.50,867.63 2011.61,866.55 2011.73,865.46 2011.84,864.38 2011.95,863.29 2012.07,862.20 2012.18,861.12 2012.29,860.03 2012.40,858.95 2012.52,857.86 2012.63,856.77 2012.74,855.69 2012.85,854.60 2012.96,853.51 2013.07,852.43 2013.18,851.34 2013.29,850.25 2013.40,849.17 2013.51,848.08 2013.62,846.99 2013.72,845.90 2013.83,844.82 2013.94,843.73 2014.05,842.64 2014.15,841.55 2014.26,840.47 2014.37,839.38 2014.47,838.29 2014.58,837.20 2014.68,836.11 2014.79,835.02 2014.89,833.94 2015.00,832.85 2015.10,831.76 2015.20,830.67 2015.31,829.58 2015.41,828.49 2015.51,827.40 2015.62,826.31 2015.72,825.22 2015.82,824.13 2015.92,823.04 2016.02,821.95 2016.13,820.86 2016.23,819.78 2016.33,818.69 2016.43,817.60 2016.53,816.51 2016.63,815.42 2016.73,814.33 2016.83,813.23 2016.92,812.14 2017.02,811.05 2017.12,809.96 2017.22,808.87 2017.32,807.78 2017.42,806.69 2017.51,805.60 2017.61,804.51 2017.71,803.42 2017.80,802.33 2017.90,801.24 2017.99,800.15 2018.09,799.05 2018.19,797.96 2018.28,796.87 2018.38,795.78 2018.47,794.69 2018.57,793.60 2018.66,792.51 2018.75,791.41 2018.85,790.32 2018.94,789.23 2019.03,788.14 2019.13,787.05 2019.22,785.96 2019.31,784.86 2019.40,783.77 2019.50,782.68 2019.59,781.59 2019.68,780.49 2019.77,779.40 2019.86,778.31 2019.95,777.22 2020.04,776.12 2020.13,775.03 2020.22,773.94 2020.31,772.85 2020.40,771.75 2020.49,770.66 2020.58,769.57 2020.67,768.48 2020.76,767.38 2020.85,766.29 2020.94,765.20 2021.03,764.10 2021.12,763.01 2021.20,761.92 2021.29,760.83 2021.38,759.73 2021.47,758.64 2021.55,757.55 2021.64,756.45 2021.73,755.36 2021.81,754.27 2021.90,753.17 2021.99,752.08 2022.07,750.99 2022.16,749.89 2022.24,748.80 2022.33,747.71 2022.41,746.61 2022.50,745.52 2022.58,744.43 2022.67,743.33 2022.75,742.24 2022.84,741.15 2022.92,740.05 2023.00,738.96 2023.09,737.86 2023.17,736.77 2023.25,735.68 2023.34,734.58 2023.42,733.49 2023.50,732.40 2023.59,731.30 2023.67,730.21 2023.75,729.11 2023.83,728.02 2023.92,726.93 2024.00,725.83 2024.08,724.74 2024.16,723.65 2024.24,722.55 2024.32,721.46 2024.41,720.36 2024.49,719.27 2024.57,718.18 2024.65,717.08 2024.73,715.99 2024.81,714.90 2024.89,713.80 2024.97,712.71 2025.05,711.61 2025.13,710.52 2025.21,709.43 2025.29,708.33 2025.37,707.24 2025.45,706.15 2025.53,705.05 2025.61,703.96 2025.69,702.86 2025.76,701.77 2025.84,700.68 2025.92,699.58 2026.00,698.49 2026.08,697.40 2026.16,696.30 2026.23,695.21 2026.31,694.11 2026.39,693.02 2026.47,691.93 2026.55,690.83 2026.62,689.74 2026.70,688.65 2026.78,687.55 2026.86,686.46 2026.93,685.37 2027.01,684.27 2027.09,683.18 2027.16,682.09 2027.24,680.99 2027.32,679.90 2027.39,678.80 2027.47,677.71 2027.55,676.62 2027.62,675.52 2027.70,674.43 2027.77,673.34 2027.85,672.24 2027.93,671.15 2028.00,670.06 2028.08,668.96 2028.15,667.87 2028.23,666.78 2028.30,665.68 2028.38,664.59 2028.45,663.50 2028.53,662.40 2028.60,661.31 2028.68,660.22 2028.75,659.12 2028.83,658.03 2028.90,656.94 2028.98,655.84 2029.05,654.75 2029.12,653.66 2029.20,652.56 2029.27,651.47 2029.35,650.38 2029.42,649.28 2029.49,648.19 2029.57,647.10 2029.64,646.01 2029.71,644.91 2029.79,643.82 2029.86,642.73 2029.93,641.63 2030.01,640.54 2030.08,639.45 2030.15,638.35 2030.22,637.26 2030.30,636.17 2030.37,635.07 2030.44,633.98 2030.51,632.89 2030.59,631.79 2030.66,630.70 2030.73,629.61 2030.80,628.52 2030.87,627.42 2030.95,626.33 2031.02,625.24 2031.09,624.14 2031.16,623.05 2031.23,621.96 2031.30,620.86 2031.37,619.77 2031.45,618.68 2031.52,617.59 2031.59,616.49 2031.66,615.40 2031.73,614.31 2031.80,613.21 2031.87,612.12 2031.94,611.03 2032.01,609.94 2032.08,608.84 2032.15,607.75 2032.22,606.66 2032.29,605.56 2032.36,604.47 2032.43,603.38 2032.50,602.28 2032.57,601.19 2032.64,600.10 2032.71,599.01 2032.78,597.91 2032.85,596.82 2032.92,595.73 2032.99,594.63 2033.06,593.54 2033.13,592.45 2033.20,591.36 2033.27,590.26 2033.34,589.17 2033.41,588.08 2033.48,586.98 2033.55,585.89 2033.61,584.80 2033.68,583.71 2033.75,582.61 2033.82,581.52 2033.89,580.43 2033.96,579.33 2034.03,578.24 2034.09,577.15 2034.16,576.06 2034.23,574.96 2034.30,573.87 2034.37,572.78 2034.44,571.69 2034.50,570.59 2034.57,569.50 2034.64,568.41 2034.71,567.31 2034.78,566.22 2034.84,565.13 2034.91,564.04 2034.98,562.94 2035.05,561.85 2035.11,560.76 2035.18,559.66 2035.25,558.57 2035.32,557.48 2035.38,556.39 2035.45,555.29 2035.52,554.20 2035.58,553.11 2035.65,552.01 2035.72,550.92 2035.79,549.83 2035.85,548.74 2035.92,547.64 2035.99,546.55 2036.05,545.46 2036.12,544.37 2036.19,543.27 2036.25,542.18 2036.32,541.09 2036.39,539.99 2036.45,538.90 2036.52,537.81 2036.59,536.72 2036.65,535.62 2036.72,534.53 2036.78,533.44 2036.85,532.34 2036.92,531.25 2036.98,530.16 2037.05,529.07 2037.11,527.97 2037.18,526.88 2037.25,525.79 2037.31,524.70 2037.38,523.60 2037.44,522.51 2037.51,521.42 2037.58,520.32 2037.64,519.23 2037.71,518.14 2037.77,517.05 2037.84,515.95 2037.90,514.86 2037.97,513.77 2038.04,512.67 2038.10,511.58 2038.17,510.49 2038.23,509.40 2038.30,508.30 2038.36,507.21 2038.43,506.12 2038.49,505.02 2038.56,503.93 2038.62,502.84 2038.69,501.75 2038.75,500.65 2038.82,499.56 2038.88,498.47 2038.95,497.37 2039.01,496.28 2039.08,495.19 2039.14,494.10 2039.21,493.00 2039.27,491.91 2039.34,490.82 2039.40,489.72 2039.47,488.63 2039.53,487.54 2039.60,486.44 2039.66,485.35 2039.73,484.26 2039.79,483.17 2039.86,482.07 2039.92,480.98 2039.99,479.89 2040.05,478.79 2040.12,477.70 2040.18,476.61 2040.24,475.51 2040.31,474.42 2040.37,473.33 2040.44,472.24 2040.50,471.14 2040.57,470.05 2040.63,468.96 2040.70,467.86 2040.76,466.77 2040.82,465.68 2040.89,464.58 2040.95,463.49 2041.02,462.40 2041.08,461.31 2041.15,460.21 2041.21,459.12 2041.28,458.03 2041.34,456.93 2041.40,455.84 2041.47,454.75 2041.53,453.65 2041.60,452.56 2041.66,451.47 2041.73,450.37 2041.79,449.28 2041.85,448.19 2041.92,447.09 2041.98,446.00 2042.05,444.91 2042.11,443.81 2042.18,442.72 2042.24,441.63 2042.30,440.53 2042.37,439.44 2042.43,438.35 2042.50,437.25 2042.56,436.16 2042.63,435.07 2042.69,433.97 2042.75,432.88 2042.82,431.79 2042.88,430.69 2042.95,429.60 2043.01,428.51 2043.08,427.41 2043.14,426.32 2043.20,425.23 2043.27,424.13 2043.33,423.04 2043.40,421.95 2043.46,420.85 2043.53,419.76 2043.59,418.67 2043.65,417.57 2043.72,416.48 2043.78,415.39 2043.85,414.29 2043.91,413.20 2043.98,412.11 2044.04,411.01 2044.10,409.92 2044.17,408.82 2044.23,407.73 2044.30,406.64 2044.36,405.54 2044.43,404.45 2044.49,403.36 2044.55,402.26 2044.62,401.17 2044.68,400.08 2044.75,398.98 2044.81,397.89 2044.88,396.79 2044.94,395.70 2045.01,394.61 2045.07,393.51 2045.14,392.42 2045.20,391.33 2045.27,390.23 2045.33,389.14 2045.40,388.04 2045.46,386.95 2045.53,385.86 2045.59,384.76 2045.66,383.67 2045.72,382.57 2045.79,381.48 2045.85,380.39 2045.92,379.29 2045.98,378.20 2046.05,377.11 2046.12,376.01 2046.18,374.92 2046.25,373.82 2046.32,372.73 2046.38,371.64 2046.45,370.54 2046.52,369.45 2046.58,368.36 2046.65,367.26 2046.72,366.17 2046.79,365.07 2046.86,363.98 2046.92,362.89 2046.99,361.79 2047.06,360.70 2047.13,359.61 2047.20,358.51 2047.27,357.42 2047.34,356.32 2047.41,355.23 2047.48,354.14 2047.55,353.04 2047.63,351.95 2047.70,350.86 2047.77,349.76 2047.84,348.67 2047.91,347.58 2047.99,346.48 2048.06,345.39 2048.13,344.30 2048.21,343.20 2048.28,342.11 2048.36,341.02 2048.43,339.92 2048.51,338.83 2048.58,337.74 2048.66,336.65 2048.74,335.55 2048.81,334.46 2048.89,333.37 2048.97,332.27 2049.05,331.18 2049.13,330.09 2049.21,329.00 2049.29,327.90 2049.37,326.81 2049.45,325.72 2049.53,324.62 2049.61,323.53 2049.69,322.44 2049.78,321.35 2049.86,320.25 2049.94,319.16 2050.03,318.07 2050.11,316.98 2050.20,315.89 2050.29,314.79 2050.37,313.70 2050.46,312.61 2050.55,311.52 2050.64,310.43 2050.72,309.33 2050.81,308.24 2050.90,307.15 2051.00,306.06 2051.09,304.97 2051.18,303.88 2051.27,302.79 2051.36,301.69 2051.46,300.60 2051.55,299.51 2051.65,298.42 2051.74,297.33 2051.84,296.24 2051.94,295.15 2052.04,294.06 2052.13,292.97 2052.23,291.88 2052.33,290.79 2052.43,289.70 2052.54,288.60 2052.64,287.51 2052.74,286.42 2052.85,285.33 2052.95,284.24 2053.05,283.15 2053.16,282.06 2053.27,280.97 2053.38,279.88 2053.48,278.80 2053.59,277.71 2053.70,276.62 2053.81,275.53 2053.92,274.44 2054.04,273.35 2054.15,272.26 2054.26,271.17 2054.38,270.08 2054.49,268.99 2054.61,267.90 2054.73,266.82 2054.85,265.73 2054.97,264.64 2055.09,263.55 2055.21,262.46 2055.33,261.37 2055.45,260.29 2055.58,259.20 2055.70,258.11 2055.83,257.02 2055.95,255.94 2056.08,254.85 2056.21,253.76 2056.34,252.67 2056.47,251.59 2056.60,250.50 2060.30,221.50 2063.90,211.30 2067.60,215.00 2071.10,232.60" fill="none" stroke="#000" stroke-width="4.44" stroke-linejoin="round" stroke-linecap="butt"/>
<line x1="107.10" y1="1170.10" x2="118.1" y2="1170.10" stroke="#333" stroke-width="4.44"/>
<line x1="107.10" y1="898.50" x2="118.1" y2="898.50" stroke="#333" stroke-width="4.44"/>
<line x1="107.10" y1="626.90" x2="118.1" y2="626.90" stroke="#333" stroke-width="4.44"/>
<line x1="107.10" y1="355.30" x2="118.1" y2="355.30" stroke="#333" stroke-width="4.44"/>
<line x1="211.10" y1="1218.0" x2="211.10" y2="1229.50" stroke="#333" stroke-width="4.44"/>
<line x1="676.12" y1="1218.0" x2="676.12" y2="1229.50" stroke="#333" stroke-width="4.44"/>
<line x1="1141.15" y1="1218.0" x2="1141.15" y2="1229.50" stroke="#333" stroke-width="4.44"/>
<line x1="1606.17" y1="1218.0" x2="1606.17" y2="1229.50" stroke="#333" stroke-width="4.44"/>
<line x1="2071.20" y1="1218.0" x2="2071.20" y2="1229.50" stroke="#333" stroke-width="4.44"/>
<text x="96.9" y="1182.70" text-anchor="end" class="ax">0</text>
<text x="96.9" y="911.10" text-anchor="end" class="ax">2</text>
<text x="96.9" y="639.50" text-anchor="end" class="ax">4</text>
<text x="96.9" y="367.90" text-anchor="end" class="ax">6</text>
<text x="211.10" y="1265.3" text-anchor="middle" class="ax">0.00</text>
<text x="676.12" y="1265.3" text-anchor="middle" class="ax">0.25</text>
<text x="1141.15" y="1265.3" text-anchor="middle" class="ax">0.50</text>
<text x="1606.17" y="1265.3" text-anchor="middle" class="ax">0.75</text>
<text x="2071.20" y="1265.3" text-anchor="middle" class="ax">1.00</text>
<text x="118.1" y="62.9" class="tt">Implied Prior Distribution P</text>
<text x="1141.15" y="1317.2" text-anchor="middle" class="ti">Probability Domain 'p'</text>
<text transform="translate(56.7,690.9) rotate(-90)" x="0" y="0" text-anchor="middle" class="ti">Probability Density</text>
</svg>
</body></html>
